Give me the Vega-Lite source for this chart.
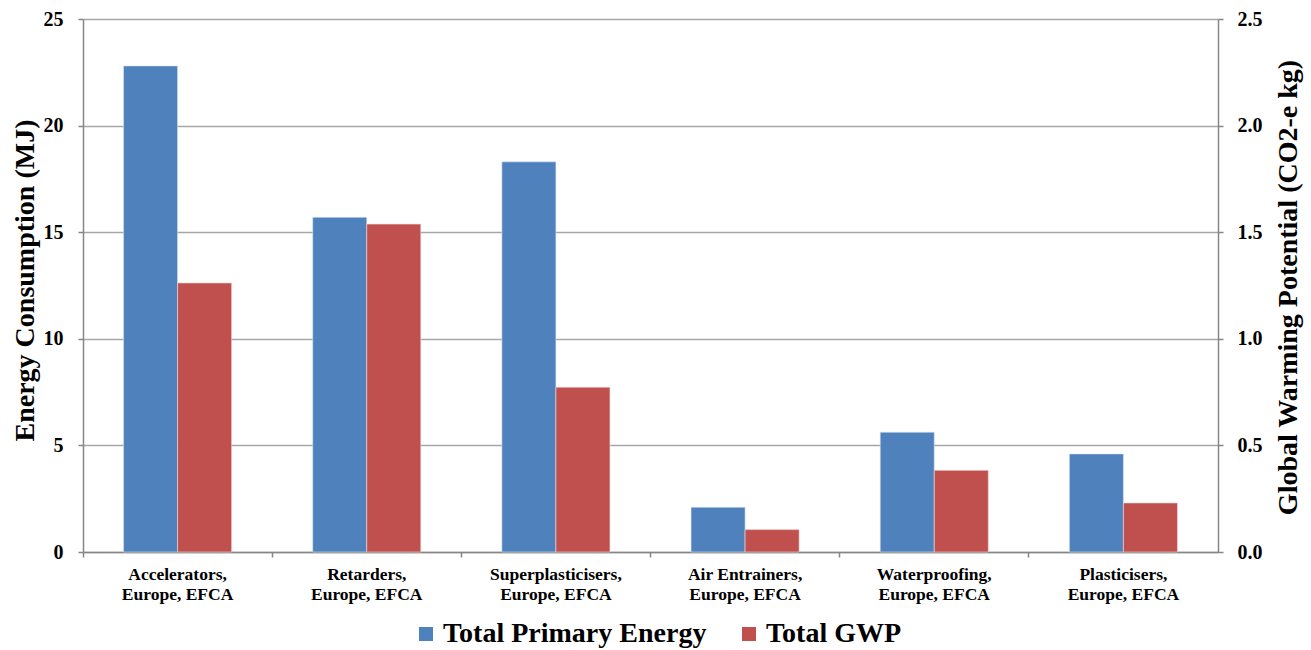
{
  "$schema": "https://vega.github.io/schema/vega-lite/v6.json",
  "width": 1135,
  "height": 533,
  "autosize": {"type": "none"},
  "padding": {"left": 83, "top": 19, "right": 93, "bottom": 98},
  "background": "white",
  "config": {
    "view": {"stroke": null},
    "font": "Liberation Serif",
    "axis": {"labelFont": "Liberation Serif", "titleFont": "Liberation Serif", "labelFontWeight": "bold", "titleFontWeight": "bold", "labelColor": "black", "titleColor": "black", "domainColor": "#868686", "tickColor": "#868686", "gridColor": "#a6a6a6", "domainWidth": 1.5, "tickWidth": 1.5}
  },
  "data": {"values": [
    {"category": "Accelerators, Europe, EFCA", "energy": 22.8, "gwp": 1.262},
    {"category": "Retarders, Europe, EFCA", "energy": 15.7, "gwp": 1.538},
    {"category": "Superplasticisers, Europe, EFCA", "energy": 18.3, "gwp": 0.773},
    {"category": "Air Entrainers, Europe, EFCA", "energy": 2.1, "gwp": 0.105},
    {"category": "Waterproofing, Europe, EFCA", "energy": 5.62, "gwp": 0.383},
    {"category": "Plasticisers, Europe, EFCA", "energy": 4.6, "gwp": 0.23}
  ]},
  "encoding": {
    "x": {
      "field": "category", "type": "nominal", "sort": null,
      "scale": {"paddingInner": 0, "paddingOuter": 0},
      "axis": {
        "title": null, "labelAngle": 0, "bandPosition": 0, "tickSize": 5,
        "labelFontSize": 17.5, "labelLineHeight": 20, "labelPadding": 8,
        "labelExpr": "[slice(datum.label, 0, indexof(datum.label, ',') + 1), slice(datum.label, indexof(datum.label, ',') + 2)]",
        "grid": false
      }
    }
  },
  "layer": [
    {
      "mark": {"type": "bar", "stroke": "#dce6f2", "strokeWidth": 0.6},
      "encoding": {
        "xOffset": {"datum": "Total Primary Energy", "scale": {"domain": ["Total Primary Energy", "Total GWP"], "paddingInner": 0, "paddingOuter": 0.75}},
        "y": {"field": "energy", "type": "quantitative", "scale": {"domain": [0, 25]},
          "axis": {"title": "Energy Consumption (MJ)", "titleFontSize": 28, "titleX": -58, "titleY": 261, "titleAngle": 270, "titleBaseline": "middle", "titleAlign": "center", "labelFontSize": 20, "values": [0, 5, 10, 15, 20, 25], "tickSize": 5, "labelPadding": 15, "grid": true, "gridWidth": 1.3}},
        "color": {"datum": "Total Primary Energy", "scale": {"domain": ["Total Primary Energy", "Total GWP"], "range": ["#4f81bd", "#c0504d"]},
          "legend": {"title": null, "orient": "none", "legendX": 329, "legendY": 601, "direction": "horizontal", "symbolType": "square", "symbolSize": 196, "symbolStrokeWidth": 0, "labelFont": "Liberation Serif", "labelFontWeight": "bold", "labelFontSize": 28, "labelLimit": 0, "labelColor": "black", "columnPadding": 28, "labelOffset": 3, "symbolOpacity": 1}}
      }
    },
    {
      "mark": {"type": "bar", "stroke": "#f2dcdb", "strokeWidth": 0.6},
      "encoding": {
        "xOffset": {"datum": "Total GWP"},
        "y": {"field": "gwp", "type": "quantitative", "scale": {"domain": [0, 2.5]},
          "axis": {"orient": "right", "title": "Global Warming Potential (CO2-e kg)", "titleFontSize": 28, "titleX": 70, "titleY": 268, "titleAngle": 270, "titleBaseline": "middle", "titleAlign": "center", "labelFontSize": 20, "format": ".1f", "values": [0, 0.5, 1, 1.5, 2, 2.5], "tickSize": 5, "labelPadding": 14, "grid": false}},
        "color": {"datum": "Total GWP"}
      }
    }
  ],
  "resolve": {"scale": {"y": "independent"}}
}
